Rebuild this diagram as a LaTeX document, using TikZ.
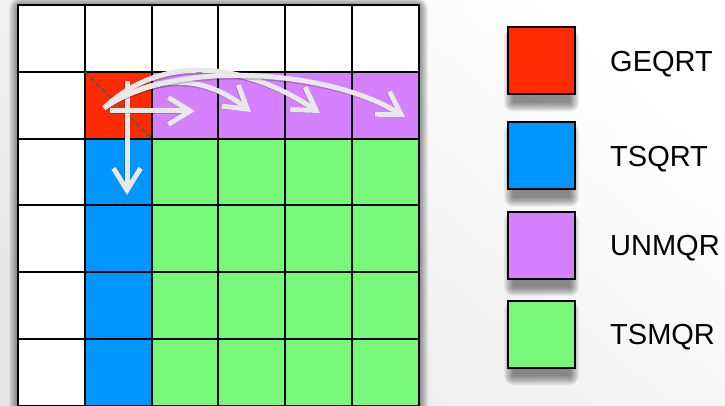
\documentclass[tikz,border=0pt]{standalone}
\usepackage{fontspec}
\setmainfont{Liberation Sans}
\usetikzlibrary{arrows.meta}
\definecolor{cRed}{HTML}{FF2A00}
\definecolor{cBlue}{HTML}{0096FF}
\definecolor{cPurple}{HTML}{D581FF}
\definecolor{cGreen}{HTML}{77F878}
\definecolor{arrowgray}{HTML}{E8E8E8}
\definecolor{dashgray}{HTML}{555555}
\newcommand\softshadow[5]{%
  \foreach \k in {0,...,#5}{\fill[black, opacity=0.055, rounded corners=\k pt] ({#1-\k},{#2-\k}) rectangle ({#3+\k},{#4+\k});}}
\newcommand\flowarrow[1]{\draw[arrshadow] #1; \draw[arr] #1;}
\begin{document}
\begin{tikzpicture}[x=1pt,y=-1pt,
  cell/.style={draw=black, line width=2pt, minimum size=66.8pt, inner sep=0pt, outer sep=0pt},
  key/.style={draw=black, line width=2pt, minimum size=67pt, inner sep=0pt},
  keytext/.style={anchor=base west, font=\fontsize{29}{34}\selectfont, inner sep=0pt},
  arr/.style={draw=arrowgray, line width=5pt, -{Straight Barb[length=22pt,width=27pt]}},
  arrshadow/.style={draw=black, opacity=0.2, line width=5.5pt, xshift=1pt, yshift=-2pt, -{Straight Barb[length=22pt,width=27pt]}},
]
\useasboundingbox (0,0) rectangle (725,406);
\shade[shading=axis, top color=white, bottom color=black!9, shading angle=-40] (0,0) rectangle (725,406);

% grid shadow
\softshadow{21}{9}{416}{410}{12}

% grid cells
\foreach \c in {0,...,5}
  \node[cell, fill=white] (c0\c) at ({18+66.8*(\c+0.5)},{5+66.8*0.5}) {};
\foreach \c/\f in {0/white,1/cRed,2/cPurple,3/cPurple,4/cPurple,5/cPurple}
  \node[cell, fill=\f] (c1\c) at ({18+66.8*(\c+0.5)},{5+66.8*1.5}) {};
\foreach \r in {2,...,5}
  \foreach \c/\f in {0/white,1/cBlue,2/cGreen,3/cGreen,4/cGreen,5/cGreen}
    \node[cell, fill=\f] (c\r\c) at ({18+66.8*(\c+0.5)},{5+66.8*(\r+0.5)}) {};

% diagonal
\draw[dashgray, line width=1.5pt, dash pattern=on 5pt off 3pt] (c11.north west) -- (c11.south east);

% arrow coordinates
\coordinate (tail) at (104,108);
\coordinate (vs) at (127,81);
\coordinate (ve) at (127,195);
\coordinate (hs) at (110,111);
\coordinate (he) at (195,111);
\coordinate (e4) at (251,112);
\coordinate (e5) at (320,113);
\coordinate (e6) at (405,117);

\flowarrow{(vs) -- (ve)}
\flowarrow{(hs) -- (he)}
\flowarrow{(tail) .. controls (145,80) and (195,68) .. (e4)}
\flowarrow{(tail) .. controls (160,55) and (240,60) .. (e5)}
\flowarrow{(tail) .. controls (175,58) and (330,70) .. (e6)}

% legend shadows
\foreach \y in {60.7,155.7,245,334}{\softshadow{513}{\y-24}{570}{\y+42}{9}}

% legend
\node[key, fill=cRed]    (kGE) at (541.3,60.7) {};
\node[key, fill=cBlue]   (kTS) at (541.3,155.7) {};
\node[key, fill=cPurple] (kUN) at (541.3,245) {};
\node[key, fill=cGreen]  (kTM) at (541.3,334) {};
\node[keytext] (tGE) at (610,71.5) {GEQRT};
\node[keytext] (tTS) at (610,166.5) {TSQRT};
\node[keytext] (tUN) at (610,255.8) {UNMQR};
\node[keytext] (tTM) at (610,344.8) {TSMQR};
\end{tikzpicture}
\end{document}
